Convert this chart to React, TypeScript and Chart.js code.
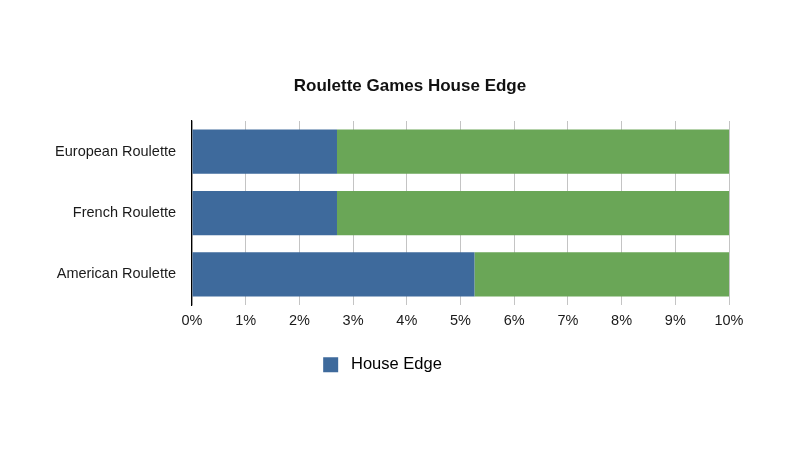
import React, { useEffect, useRef } from "react";
import { Chart, registerables } from "chart.js";

Chart.register(...registerables);

const categories = ["European Roulette", "French Roulette", "American Roulette"];
const houseEdge = [2.7, 2.7, 5.26];
const remainder = [7.3, 7.3, 4.74];
const xTickValues = [0, 1, 2, 3, 4, 5, 6, 7, 8, 9, 10];

const BLUE = "#3e6a9c";
const GREEN = "#6aa657";
const FONT = "'Liberation Sans', Arial, Helvetica, sans-serif";
const LEGEND_DX = -2;
const TITLE_DX = 25.5;

const boxShift = {
  id: "boxShift",
  afterLayout(chart: any) {
    const lg = chart.legend;
    if (lg) {
      lg.left += LEGEND_DX;
      lg.right += LEGEND_DX;
    }
    const tb = chart.titleBlock;
    if (tb) {
      tb.left += TITLE_DX;
      tb.right += TITLE_DX;
    }
  },
};

export default function App() {
  const ref = useRef<HTMLCanvasElement | null>(null);

  useEffect(() => {
    if (!ref.current) return;
    const chart = new Chart(ref.current, {
      type: "bar",
      data: {
        labels: categories,
        datasets: [
          {
            label: "House Edge",
            data: houseEdge,
            backgroundColor: BLUE,
            borderWidth: 0,
            categoryPercentage: 0.72,
            barPercentage: 1,
          },
          {
            label: "Remainder",
            data: remainder,
            backgroundColor: GREEN,
            borderWidth: 0,
            categoryPercentage: 0.72,
            barPercentage: 1,
          },
        ],
      },
      options: {
        indexAxis: "y",
        animation: false,
        responsive: false,
        layout: { padding: { left: 40, right: 71, top: 0, bottom: 67 } },
        scales: {
          x: {
            stacked: true,
            min: 0,
            max: 10,
            afterBuildTicks: (scale: any) => {
              scale.ticks = xTickValues.map((v) => ({ value: v }));
            },
            ticks: {
              stepSize: 1,
              padding: 7,
              color: "#1a1a1a",
              font: { family: FONT, size: 14.5 },
              callback: (v: any) => `${v}%`,
            },
            grid: { color: "#c4c4c4", lineWidth: 1, drawTicks: false },
            border: { display: false },
          },
          y: {
            stacked: true,
            afterFit: (scale: any) => {
              scale.width = 152;
            },
            ticks: {
              padding: 16,
              color: "#1a1a1a",
              font: { family: FONT, size: 14.5 },
            },
            grid: { display: false, drawTicks: false },
            border: { display: true, color: "#000000", width: 1.2 },
          },
        },
        plugins: {
          title: {
            display: true,
            text: "Roulette Games House Edge",
            color: "#111111",
            font: { family: FONT, size: 17, weight: "bold" },
            padding: { top: 76, bottom: 24.6 },
          },
          legend: {
            display: true,
            position: "bottom",
            labels: {
              boxWidth: 15,
              boxHeight: 15,
              padding: 20,
              color: "#1a1a1a",
              font: { family: FONT, size: 16.5 },
              filter: (item: any) => item.datasetIndex === 0,
              generateLabels: (chart: any) =>
                chart.data.datasets.map((ds: any, i: number) => ({
                  text: " " + ds.label,
                  fillStyle: ds.backgroundColor,
                  strokeStyle: ds.backgroundColor,
                  lineWidth: 0,
                  hidden: false,
                  datasetIndex: i,
                })),
            },
          },
          tooltip: { enabled: false },
        },
      },
      plugins: [boxShift],
    } as any);
    return () => chart.destroy();
  }, []);

  return (
    <div style={{ position: "absolute", left: 0, top: 0, width: 800, height: 450, background: "#fff" }}>
      <canvas ref={ref} width={800} height={450} style={{ display: "block" }} />
    </div>
  );
}
